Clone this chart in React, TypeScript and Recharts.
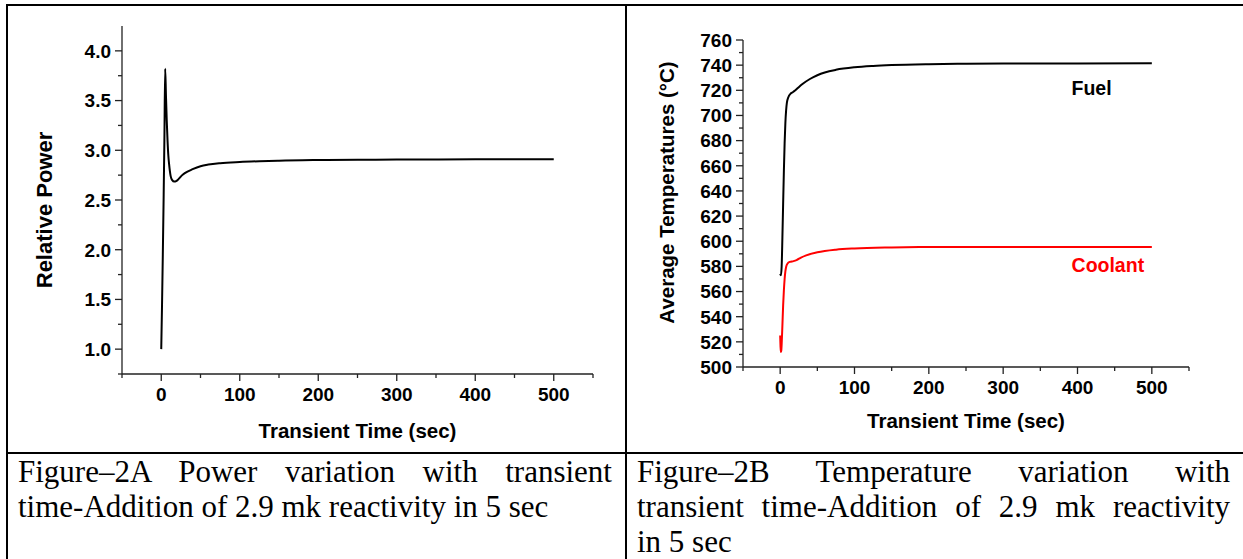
import React from 'react';
import { LineChart, Line, XAxis, YAxis, ReferenceDot } from 'recharts';

// ---------- data ----------
const powerTime = [0, 1, 2, 3, 4, 5, 6, 7, 8, 9, 10, 11, 12, 14, 16.5, 19, 22, 26, 30, 40, 50, 60, 75, 100, 125, 150, 200, 250, 300, 400, 500];
const powerValue = [1.0, 1.45, 1.95, 2.5, 3.1, 3.82, 3.55, 3.3, 3.1, 2.95, 2.86, 2.79, 2.74, 2.7, 2.685, 2.69, 2.71, 2.745, 2.77, 2.81, 2.84, 2.856, 2.87, 2.882, 2.89, 2.896, 2.902, 2.905, 2.907, 2.909, 2.91];

const fuelTime = [0, 1, 2, 3, 4, 5, 6, 7, 8, 9, 11, 14, 17, 20, 25, 30, 40, 50, 60, 75, 100, 125, 150, 200, 250, 300, 400, 500];
const fuelValue = [574, 573, 580, 603, 630, 656, 678, 694, 704, 710, 714.5, 717.3, 718.5, 719.8, 722.5, 725, 729, 732, 734.2, 736.3, 738.3, 739.4, 740.1, 740.8, 741.1, 741.3, 741.4, 741.5];

const coolantTime = [0, 0.5, 1, 1.5, 2, 3, 4, 5, 6, 7, 8, 10, 13, 18, 22, 28, 35, 50, 75, 100, 150, 200, 300, 400, 500];
const coolantValue = [525, 516, 512, 513, 518, 533, 549, 561, 570, 576, 579.5, 582.3, 583.6, 584.2, 585, 587, 588.8, 591.2, 593.3, 594.3, 595.1, 595.4, 595.5, 595.5, 595.5];

const timeTicks = [-50, 0, 50, 100, 150, 200, 250, 300, 350, 400, 450, 500, 550];
const powerTicks = [0.75, 1.0, 1.25, 1.5, 1.75, 2.0, 2.25, 2.5, 2.75, 3.0, 3.25, 3.5, 3.75, 4.0];
const tempTicks = [500, 510, 520, 530, 540, 550, 560, 570, 580, 590, 600, 610, 620, 630, 640, 650, 660, 670, 680, 690, 700, 710, 720, 730, 740, 750, 760];

const fuelLabelPos = { t: 392, v: 716.3 };
const coolantLabelPos = { t: 392, v: 575.3 };

const powerData = powerTime.map((t, i) => ({ t, v: powerValue[i] }));
const fuelData = fuelTime.map((t, i) => ({ t, fuel: fuelValue[i] }));
const coolantData = coolantTime.map((t, i) => ({ t, coolant: coolantValue[i] }));

// ---------- styles ----------
const SANS = '"Liberation Sans", Arial, Helvetica, sans-serif';
const SERIF = '"Liberation Serif", "Times New Roman", Times, serif';
const AXIS = '#222';
const TICK_FS = 19;
const TITLE_FS = 20.5;

const XTick = (props: any) => {
  const { x, y, payload } = props;
  const v = payload.value;
  const major = v % 100 === 0 && v >= 0 && v <= 500;
  return (
    <g>
      <line x1={x} x2={x} y1={y} y2={y + (major ? 7 : 4)} stroke={AXIS} strokeWidth={1.3} />
      {major && (
        <text x={x} y={y + 27} textAnchor="middle" fontFamily={SANS} fontWeight="bold" fontSize={TICK_FS} fill="#000">
          {v}
        </text>
      )}
    </g>
  );
};

const PowerYTick = (props: any) => {
  const { x, y, payload } = props;
  const v = payload.value;
  const major = Math.abs(v * 2 - Math.round(v * 2)) < 1e-6 && v >= 1;
  return (
    <g>
      <line x1={x} x2={x - (major ? 7 : 4)} y1={y} y2={y} stroke={AXIS} strokeWidth={1.3} />
      {major && (
        <text x={x - 11} y={y} dy="0.36em" textAnchor="end" fontFamily={SANS} fontWeight="bold" fontSize={TICK_FS} fill="#000">
          {v.toFixed(1)}
        </text>
      )}
    </g>
  );
};

const TempYTick = (props: any) => {
  const { x, y, payload } = props;
  const v = payload.value;
  const major = v % 20 === 0;
  return (
    <g>
      <line x1={x} x2={x - (major ? 7 : 4)} y1={y} y2={y} stroke={AXIS} strokeWidth={1.3} />
      {major && (
        <text x={x - 11} y={y} dy="0.36em" textAnchor="end" fontFamily={SANS} fontWeight="bold" fontSize={TICK_FS} fill="#000">
          {v}
        </text>
      )}
    </g>
  );
};

const title = (text: string, x: number, y: number, vertical: boolean, fs: number = TITLE_FS) => () => (
  <text
    x={x}
    y={y}
    textAnchor="middle"
    dominantBaseline={vertical ? 'central' : 'auto'}
    transform={vertical ? `rotate(-90 ${x} ${y})` : undefined}
    fontFamily={SANS}
    fontWeight="bold"
    fontSize={fs}
    fill="#000"
  >
    {text}
  </text>
);

const seriesLabel = (text: string, color: string) => (props: any) => {
  const vb = props.viewBox || {};
  return (
    <text x={vb.x} y={vb.y} textAnchor="start" fontFamily={SANS} fontWeight="bold" fontSize={19.5} fill={color}>
      {text}
    </text>
  );
};

const line = (style: React.CSSProperties): React.CSSProperties => ({ position: 'absolute', background: '#000', ...style });

const captionStyle = (left: number, width: number): React.CSSProperties => ({
  position: 'absolute',
  left,
  top: 454,
  width,
  fontFamily: SERIF,
  fontSize: 31,
  lineHeight: '35px',
  color: '#000',
  whiteSpace: 'nowrap',
});
const justified: React.CSSProperties = { textAlign: 'justify', textAlignLast: 'justify', whiteSpace: 'normal' };

export default function App() {
  return (
    <div style={{ position: 'absolute', left: 0, top: 0, width: 1243, height: 559, background: '#fff', overflow: 'hidden' }}>
      {/* table borders */}
      <div style={line({ left: 6, top: 4, width: 1237, height: 2 })} />
      <div style={line({ left: 6, top: 4, width: 2, height: 555 })} />
      <div style={line({ left: 625, top: 4, width: 2, height: 555 })} />
      <div style={line({ left: 6, top: 452, width: 1237, height: 2 })} />

      {/* left chart */}
      <div style={{ position: 'absolute', left: 0, top: 0 }}>
        <LineChart width={620} height={452} data={powerData} margin={{ top: 26, right: 27, bottom: 0, left: 0 }}>
          <XAxis
            dataKey="t"
            type="number"
            domain={[-50, 550]}
            ticks={timeTicks}
            interval={0}
            allowDataOverflow
            height={78}
            tickSize={0}
            tickMargin={0}
            tickLine={false}
            axisLine={{ stroke: AXIS, strokeWidth: 1.3 }}
            tick={<XTick />}
            label={{ content: title('Transient Time (sec)', 357.5, 438, false) }}
          />
          <YAxis
            type="number"
            domain={[0.75, 4.25]}
            ticks={powerTicks}
            interval={0}
            allowDataOverflow
            width={122}
            tickSize={0}
            tickMargin={0}
            tickLine={false}
            axisLine={{ stroke: AXIS, strokeWidth: 1.3 }}
            tick={<PowerYTick />}
            label={{ content: title('Relative Power', 44, 210, true, 22) }}
          />
          <Line type="monotone" dataKey="v" stroke="#000" strokeWidth={2} dot={false} activeDot={false} isAnimationActive={false} />
        </LineChart>
      </div>

      {/* right chart */}
      <div style={{ position: 'absolute', left: 627, top: 0 }}>
        <LineChart width={610} height={452} margin={{ top: 40, right: 48, bottom: 0, left: 0 }}>
          <XAxis
            dataKey="t"
            type="number"
            domain={[-50, 550]}
            ticks={timeTicks}
            interval={0}
            allowDataOverflow
            height={85}
            tickSize={0}
            tickMargin={0}
            tickLine={false}
            axisLine={{ stroke: AXIS, strokeWidth: 1.3 }}
            tick={<XTick />}
            label={{ content: title('Transient Time (sec)', 339, 428, false) }}
          />
          <YAxis
            type="number"
            domain={[500, 760]}
            ticks={tempTicks}
            interval={0}
            allowDataOverflow
            width={116}
            tickSize={0}
            tickMargin={0}
            tickLine={false}
            axisLine={{ stroke: AXIS, strokeWidth: 1.3 }}
            tick={<TempYTick />}
            label={{ content: title('Average Temperatures (°C)', 39.5, 192.5, true) }}
          />
          <Line data={fuelData} type="monotone" dataKey="fuel" stroke="#000" strokeWidth={2} dot={false} activeDot={false} isAnimationActive={false} />
          <Line data={coolantData} type="monotone" dataKey="coolant" stroke="#ff0000" strokeWidth={2} dot={false} activeDot={false} isAnimationActive={false} />
          <ReferenceDot x={fuelLabelPos.t} y={fuelLabelPos.v} r={0} fill="none" stroke="none" label={{ content: seriesLabel('Fuel', '#000') }} />
          <ReferenceDot x={coolantLabelPos.t} y={coolantLabelPos.v} r={0} fill="none" stroke="none" label={{ content: seriesLabel('Coolant', '#ff0000') }} />
        </LineChart>
      </div>

      {/* captions */}
      <div style={captionStyle(18, 594)}>
        <div style={justified}>Figure–2A Power variation with transient</div>
        <div>time-Addition of 2.9 mk reactivity in 5 sec</div>
      </div>
      <div style={captionStyle(637, 593)}>
        <div style={justified}>Figure–2B Temperature variation with</div>
        <div style={justified}>transient time-Addition of 2.9 mk reactivity</div>
        <div>in 5 sec</div>
      </div>
    </div>
  );
}
